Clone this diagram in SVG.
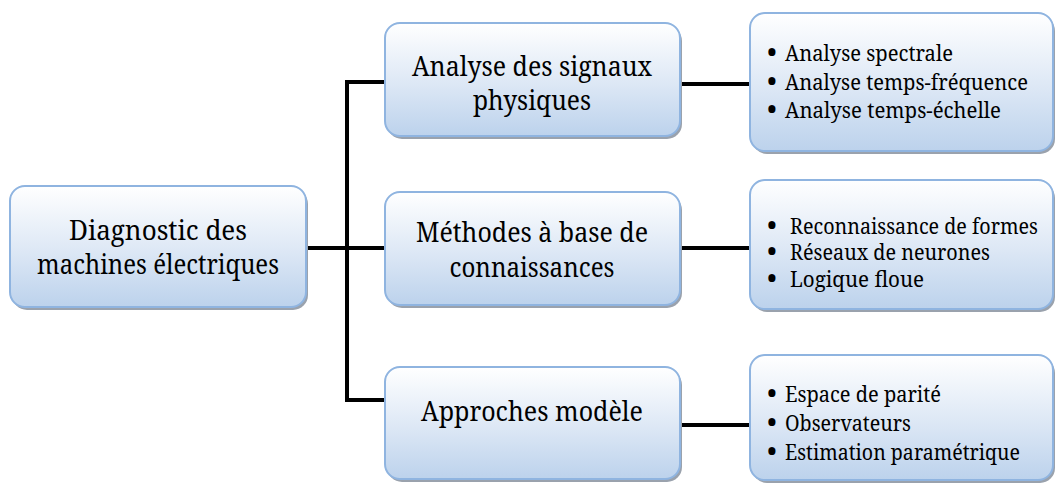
<svg xmlns="http://www.w3.org/2000/svg" width="1058" height="487" viewBox="0 0 1058 487">
<defs>
<linearGradient id="g" x1="0" y1="0" x2="0" y2="1">
<stop offset="0" stop-color="#ffffff"/>
<stop offset="0.55" stop-color="#dce7f5"/>
<stop offset="1" stop-color="#bcd2ec"/>
</linearGradient>
<style>
.box{fill:url(#g);stroke:#8fb4e0;stroke-width:2}
.sh{fill:#9aa2ad}
.t{font-size:28px;fill:#000;text-anchor:middle}
.s{font-size:22px;fill:#000}
.b{font-size:27px;fill:#000;text-anchor:middle}
.c{fill:none;stroke:#000;stroke-width:4;stroke-linejoin:miter}
</style>
</defs>
<g id="connectors">
<path class="c" d="M385,82 H347 V400 H385"/>
<path class="c" d="M307,248 H385"/>
<path class="c" d="M680,84 H750"/>
<path class="c" d="M680,248 H750"/>
<path class="c" d="M680,425 H750"/>
</g>
<g font-family="Noto Serif, DejaVu Serif, serif">
<g id="root">
<rect class="sh" x="12" y="189" width="296" height="121" rx="15"/>
<rect class="box" x="10" y="186" width="296" height="121" rx="15"/>
<text class="t" x="158" y="240" textLength="178" lengthAdjust="spacingAndGlyphs">Diagnostic des</text>
<text class="t" x="158" y="274" textLength="242" lengthAdjust="spacingAndGlyphs">machines électriques</text>
</g>
<g id="signaux">
<rect class="sh" x="387" y="26" width="295" height="113" rx="15"/>
<rect class="box" x="385" y="23" width="295" height="113" rx="15"/>
<text class="t" x="532" y="76" textLength="240" lengthAdjust="spacingAndGlyphs">Analyse des signaux</text>
<text class="t" x="532" y="110" textLength="118" lengthAdjust="spacingAndGlyphs">physiques</text>
</g>
<g id="connaissances">
<rect class="sh" x="387" y="195" width="295" height="113" rx="15"/>
<rect class="box" x="385" y="192" width="295" height="113" rx="15"/>
<text class="t" x="532" y="242" textLength="232" lengthAdjust="spacingAndGlyphs">Méthodes à base de</text>
<text class="t" x="532" y="277" textLength="165" lengthAdjust="spacingAndGlyphs">connaissances</text>
</g>
<g id="modele">
<rect class="sh" x="387" y="370" width="295" height="112" rx="15"/>
<rect class="box" x="385" y="367" width="295" height="112" rx="15"/>
<text class="t" x="532" y="421" textLength="222" lengthAdjust="spacingAndGlyphs">Approches modèle</text>
</g>
<g id="liste-signaux">
<rect class="sh" x="752" y="16" width="303" height="138" rx="15"/>
<rect class="box" x="750" y="13" width="303" height="138" rx="15"/>
<text class="b" x="772" y="62">•</text>
<text class="b" x="772" y="91">•</text>
<text class="b" x="772" y="119">•</text>
<text class="s" x="785" y="61" textLength="168" lengthAdjust="spacingAndGlyphs">Analyse spectrale</text>
<text class="s" x="785" y="90" textLength="243" lengthAdjust="spacingAndGlyphs">Analyse temps-fréquence</text>
<text class="s" x="785" y="118" textLength="216" lengthAdjust="spacingAndGlyphs">Analyse temps-échelle</text>
</g>
<g id="liste-connaissances">
<rect class="sh" x="752" y="183" width="303" height="129" rx="15"/>
<rect class="box" x="750" y="180" width="303" height="129" rx="15"/>
<text class="b" x="772" y="235">•</text>
<text class="b" x="772" y="261">•</text>
<text class="b" x="772" y="288">•</text>
<text class="s" x="790" y="234" textLength="248" lengthAdjust="spacingAndGlyphs">Reconnaissance de formes</text>
<text class="s" x="790" y="260" textLength="200" lengthAdjust="spacingAndGlyphs">Réseaux de neurones</text>
<text class="s" x="790" y="287" textLength="134" lengthAdjust="spacingAndGlyphs">Logique floue</text>
</g>
<g id="liste-modele">
<rect class="sh" x="752" y="358" width="303" height="125" rx="15"/>
<rect class="box" x="750" y="355" width="303" height="125" rx="15"/>
<text class="b" x="772" y="403">•</text>
<text class="b" x="772" y="432">•</text>
<text class="b" x="772" y="461">•</text>
<text class="s" x="785" y="402" textLength="156" lengthAdjust="spacingAndGlyphs">Espace de parité</text>
<text class="s" x="785" y="431" textLength="126" lengthAdjust="spacingAndGlyphs">Observateurs</text>
<text class="s" x="785" y="460" textLength="235" lengthAdjust="spacingAndGlyphs">Estimation paramétrique</text>
</g>
</g>
</svg>
